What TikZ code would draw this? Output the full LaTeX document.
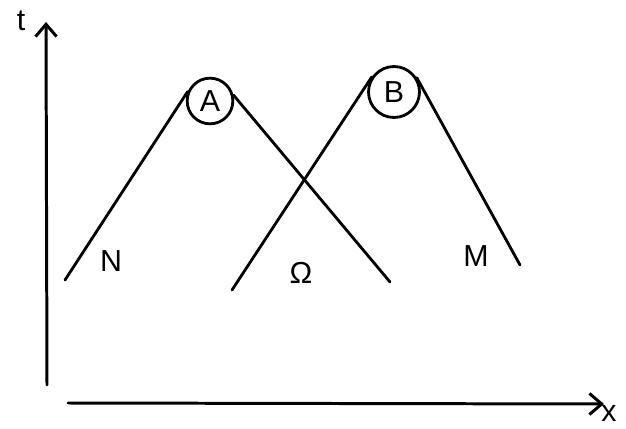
\documentclass[tikz,border=0pt]{standalone}
\usepackage{fontspec}
\setmainfont{Liberation Sans}
\usepackage{tikz}
\usetikzlibrary{arrows.meta, positioning}

\begin{document}
\begin{tikzpicture}[
    x=0.02cm, y=-0.02cm,
    ax/.style={-{Straight Barb[length=7pt, width=12pt]}, line width=1.7pt, line cap=round},
    kegel/.style={line width=1.6pt, line cap=round},
    punkt/.style={circle, draw, line width=1.6pt, minimum size=26pt, inner sep=0pt, font=\LARGE},
    lbl/.style={font=\LARGE}
]
\useasboundingbox (0, 0) rectangle (626, 429);

% ===== Achsen =====
\coordinate (t0) at (47, 385);
\coordinate (t1) at (46, 22);
\coordinate (x0) at (68, 403);
\coordinate (x1) at (604, 404);
\draw[ax] (t0) -- (t1);
\draw[ax] (x0) -- (x1);
\node[lbl] (tl) at (21, 21) {t};
\node[lbl] (xl) at (609, 413) {x};

% ===== Ereignisse A und B =====
\node[punkt] (A) at (210, 101) {A};
\node[punkt, minimum width=27pt, minimum height=29pt] (B) at (394, 92) {B};

% Lichtkegel von A
\coordinate (a1) at (65, 280);
\coordinate (a2) at (390, 282);
\draw[kegel] (a1) -- (A.157);
\draw[kegel] (A.14) -- (a2);

% Lichtkegel von B
\coordinate (b1) at (232, 290);
\coordinate (b2) at (520, 265);
\draw[kegel] (b1) -- (B.146);
\draw[kegel] (B.32) -- (b2);

% ===== Gebiete =====
\node[lbl] (N) at (111, 261) {N};
\node[lbl] (Om) at (301, 273) {Ω};
\node[lbl] (M) at (476, 256) {M};

\end{tikzpicture}
\end{document}
